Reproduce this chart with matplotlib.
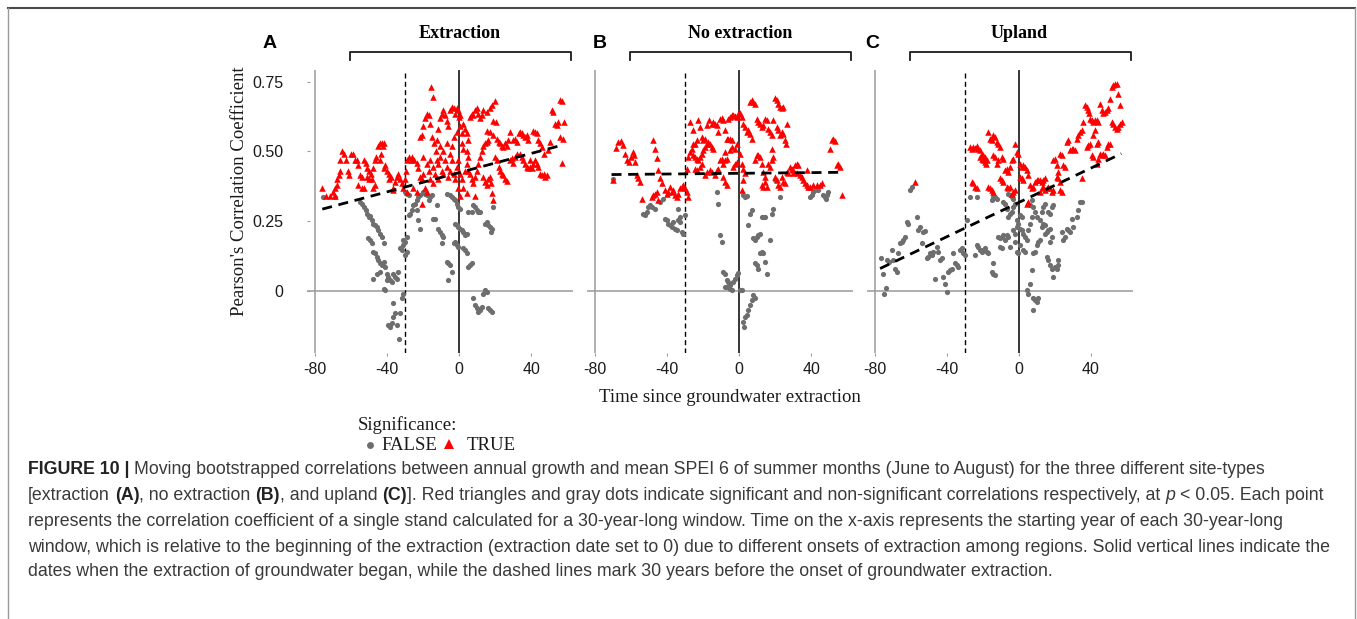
import matplotlib
matplotlib.use("Agg")
import matplotlib.pyplot as plt
from matplotlib.lines import Line2D

# ---------------------------------------------------------------- data
panel_keys = ["A", "B", "C"]
panel_titles = ["Extraction", "No extraction", "Upland"]
x_ticks = [-80, -40, 0, 40]
y_ticks = [0, 0.25, 0.50, 0.75]
y_tick_labels = ["0", "0.25", "0.50", "0.75"]

# (start year relative to extraction, correlation) - significant windows
a_true = [
    (-76, 0.37), (-74, 0.34), (-72, 0.34), (-69, 0.34), (-70, 0.355), (-69, 0.37),
    (-68, 0.38), (-68, 0.40), (-67, 0.415), (-66, 0.43), (-66, 0.47), (-65, 0.50),
    (-64, 0.49), (-63, 0.47), (-62, 0.43), (-61, 0.415), (-60, 0.49), (-59, 0.49),
    (-58, 0.47), (-57, 0.47), (-56, 0.45), (-55, 0.415), (-54, 0.41), (-56, 0.38),
    (-54, 0.37), (-53, 0.37), (-53, 0.47), (-52, 0.46), (-51, 0.44), (-50, 0.43),
    (-49, 0.42), (-48.5, 0.40), (-48, 0.37), (-47, 0.38), (-51, 0.41), (-50, 0.40),
    (-48, 0.44), (-47, 0.47), (-46, 0.48), (-45, 0.52), (-44, 0.53), (-43, 0.53),
    (-42, 0.53), (-42.5, 0.52), (-44, 0.47), (-43.5, 0.49), (-42, 0.44), (-41, 0.45),
    (-40, 0.43), (-39, 0.42), (-39, 0.40), (-38, 0.41), (-37, 0.36), (-36.5, 0.37),
    (-35.6, 0.39), (-34.6, 0.41), (-33.7, 0.42), (-32.8, 0.40), (-31.9, 0.385),
    (-30.9, 0.37), (-30, 0.40), (-29.4, 0.43), (-29, 0.47), (-28, 0.48), (-27, 0.47),
    (-26, 0.48), (-25, 0.47), (-23.5, 0.46), (-22.6, 0.44), (-21.7, 0.41),
    (-20.7, 0.40), (-19.8, 0.42), (-18.9, 0.37), (-18, 0.355), (-21.7, 0.55),
    (-20.7, 0.56), (-19.8, 0.59), (-18.9, 0.62), (-18, 0.635), (-17, 0.63), (-16, 0.60),
    (-15.7, 0.73), (-14.6, 0.695), (-15, 0.55), (-14, 0.53), (-13, 0.50), (-12.4, 0.54),
    (-11.5, 0.58), (-10.6, 0.62), (-9.6, 0.635), (-8.7, 0.65), (-7.8, 0.63),
    (-6.9, 0.61), (-5.9, 0.59), (-19.8, 0.48), (-18, 0.455), (-17, 0.43), (-16, 0.47),
    (-14.3, 0.445), (-13.3, 0.42), (-12.4, 0.47), (-11.5, 0.455), (-10.6, 0.48),
    (-9.6, 0.43), (-8.7, 0.42), (-7.8, 0.47), (-6.9, 0.445), (-5.9, 0.41), (-5, 0.43),
    (-4.1, 0.47), (-3.1, 0.42), (-2.2, 0.40), (-1.3, 0.445), (-0.4, 0.47),
    (-10.6, 0.52), (-8.7, 0.50), (-6.9, 0.53), (-5, 0.49), (-4.1, 0.52),
    (-11.5, 0.40), (-14.3, 0.385), (-16, 0.40), (-5, 0.65), (-4.1, 0.66),
    (-3.1, 0.655), (-2.2, 0.635), (-1.3, 0.655), (-0.4, 0.65), (0, 0.625), (0.6, 0.63),
    (-3.1, 0.55), (-1.3, 0.57), (0.6, 0.59), (1.5, 0.565), (2.4, 0.60), (3.3, 0.58),
    (4.3, 0.565), (5.2, 0.54), (1.5, 0.53), (2.4, 0.51), (4.3, 0.50), (5.2, 0.48),
    (0.6, 0.42), (1.5, 0.40), (2.4, 0.37), (3.3, 0.43), (4.3, 0.455), (-0.4, 0.367),
    (0.6, 0.34), (6.1, 0.625), (7, 0.635), (8, 0.63), (8.9, 0.65), (9.8, 0.655),
    (10.7, 0.635), (11.7, 0.62), (12.6, 0.63), (13.5, 0.65), (15.4, 0.64),
    (17.2, 0.655), (18.1, 0.665), (20, 0.68), (19.1, 0.61), (20.6, 0.605),
    (5.2, 0.43), (6.1, 0.42), (7, 0.40), (8, 0.385), (8.9, 0.41), (9.8, 0.43),
    (10.7, 0.455), (11.7, 0.48), (12.6, 0.50), (13.5, 0.52), (14.4, 0.53),
    (15.4, 0.535), (16.3, 0.54), (13.5, 0.41), (14.4, 0.39), (15.4, 0.38),
    (16.3, 0.40), (17.2, 0.41), (17.6, 0.385), (15.4, 0.575), (17.2, 0.57),
    (19.1, 0.56), (20.9, 0.545), (21.9, 0.535), (22.8, 0.53), (20, 0.48),
    (20.9, 0.47), (21.9, 0.445), (22.8, 0.43), (23.7, 0.42), (24.6, 0.415),
    (25.6, 0.40), (26.5, 0.395), (23.7, 0.52), (24.6, 0.515), (25.6, 0.53),
    (26.5, 0.52), (27.4, 0.54), (28.3, 0.57), (19.1, 0.325), (18.1, 0.35),
    (28.3, 0.47), (29.3, 0.475), (30.2, 0.46), (31.1, 0.48), (32, 0.49),
    (30.2, 0.54), (31.1, 0.545), (32, 0.535), (33, 0.565), (33.9, 0.57),
    (34.8, 0.565), (35.7, 0.56), (36.7, 0.55), (37.6, 0.56), (38.5, 0.54),
    (39.4, 0.47), (33.9, 0.49), (34.8, 0.48), (35.7, 0.47), (36.7, 0.455),
    (37.6, 0.445), (38.5, 0.44), (39.4, 0.445), (40.4, 0.44), (41.3, 0.455),
    (41.3, 0.575), (42.2, 0.57), (43.1, 0.565), (44.1, 0.54), (45, 0.53),
    (45.9, 0.515), (46.9, 0.49), (42.2, 0.47), (43.1, 0.455), (44.1, 0.445),
    (45, 0.42), (45.9, 0.415), (46.9, 0.42), (47.8, 0.41), (48.7, 0.415),
    (49.6, 0.505), (50.6, 0.535), (51.5, 0.65), (52.4, 0.64), (53.3, 0.60),
    (54.3, 0.595), (55.2, 0.605), (56.1, 0.685), (57, 0.68), (57.6, 0.545),
    (58, 0.605), (56.1, 0.55), (57, 0.46), (-29, 0.355), (-25.4, 0.367),
    (-23.5, 0.355), (-20.7, 0.313), (4.3, 0.35), (8.9, 0.34),
]
a_false = [
    (-75.4, 0.337), (-69, 0.337), (-55, 0.32), (-54, 0.313), (-53, 0.30), (-52, 0.29),
    (-51, 0.275), (-50, 0.265), (-49.4, 0.27), (-48.5, 0.253), (-47.6, 0.24),
    (-46.7, 0.235), (-45.7, 0.23), (-44.8, 0.217), (-43.9, 0.205), (-43, 0.194),
    (-42, 0.17), (-50.4, 0.188), (-49.4, 0.182), (-48.5, 0.172), (-47.6, 0.14),
    (-46.7, 0.134), (-45.7, 0.122), (-44.8, 0.11), (-43.9, 0.098), (-43, 0.092),
    (-42, 0.104), (-41.1, 0.086), (-40.2, 0.062), (-39.3, 0.05), (-38.3, 0.038),
    (-37.4, 0.032), (-36.5, 0.062), (-35.6, 0.05), (-34.6, 0.044), (-33.7, 0.068),
    (-47.6, 0.044), (-45.7, 0.062), (-43.9, 0.068), (-42, 0.008), (-41.1, 0.002),
    (-40.2, 0.038), (-39.3, -0.123), (-38.3, -0.129), (-37.4, -0.117),
    (-36.5, -0.093), (-35.6, -0.081), (-34.6, -0.123), (-33.3, -0.171),
    (-32.8, -0.081), (-31.9, -0.027), (-31.3, -0.01), (-36.5, -0.045),
    (-32.8, 0.152), (-31.9, 0.146), (-31.3, 0.164), (-30.9, 0.182), (-30, 0.176),
    (-29.1, 0.194), (-30, 0.128), (-29.1, 0.14), (-28.1, 0.271), (-27.2, 0.277),
    (-26.3, 0.289), (-25.4, 0.307), (-24.4, 0.313), (-23.5, 0.325), (-22.6, 0.337),
    (-21.7, 0.343), (-30, 0.355), (-29.1, 0.349), (-28.1, 0.343), (-23.5, 0.289),
    (-22.6, 0.253), (-21.7, 0.223), (-19.8, 0.355), (-18.9, 0.349), (-18, 0.343),
    (-17, 0.325), (-16.1, 0.337), (-15.2, 0.343), (-14.3, 0.259), (-13.3, 0.259),
    (-12.4, 0.307), (-11.5, 0.223), (-10.6, 0.211), (-9.6, 0.2), (-8.7, 0.194),
    (-9.6, 0.17), (-6.9, 0.104), (-5.9, 0.098), (-5, 0.092), (-4.1, 0.068),
    (-5.9, 0.038), (-6.9, 0.349), (-5, 0.343), (-4.1, 0.337), (-3.1, 0.331),
    (-2.2, 0.325), (-1.3, 0.313), (-0.4, 0.301), (0.6, 0.295), (-2.2, 0.241),
    (-1.3, 0.235), (-0.4, 0.229), (0.6, 0.223), (1.5, 0.217), (2.4, 0.211),
    (3.3, 0.205), (-3.1, 0.17), (-2.2, 0.176), (-1.3, 0.164), (-0.4, 0.158),
    (2.4, 0.152), (3.3, 0.146), (4.3, 0.134), (5.2, 0.086), (6.1, 0.092),
    (7, 0.098), (4.3, 0.205), (3.3, 0.2), (5.2, 0.283), (7, 0.283), (8, 0.307),
    (8.9, 0.301), (9.8, 0.289), (10.7, 0.283), (11.7, 0.283), (8, -0.027),
    (8.9, -0.051), (9.8, -0.063), (10.7, -0.075), (11.7, -0.069), (12.6, -0.057),
    (13.5, -0.01), (14.4, 0.002), (15.4, -0.004), (16.3, -0.063), (17.2, -0.069),
    (18.1, -0.075), (14.4, 0.241), (15.4, 0.247), (16.3, 0.235), (17.2, 0.229),
    (18.1, 0.223), (17.6, 0.211), (19.1, 0.301),
]

b_true = [
    (-70.4, 0.397), (-68.5, 0.514), (-67.2, 0.534), (-65.9, 0.538), (-64.8, 0.522),
    (-63.5, 0.492), (-62.6, 0.468), (-61.1, 0.462), (-60.4, 0.48), (-59.3, 0.498),
    (-58.5, 0.486), (-58, 0.462), (-57, 0.415), (-56.1, 0.403), (-55.2, 0.391),
    (-54.3, 0.331), (-48.1, 0.54), (-46.9, 0.51), (-45.9, 0.478), (-45, 0.432),
    (-44.1, 0.403), (-43.1, 0.385), (-48.7, 0.337), (-47.8, 0.343), (-46.9, 0.349),
    (-45.9, 0.355), (-45, 0.325), (-41.3, 0.361), (-40.4, 0.349), (-39.4, 0.355),
    (-38.5, 0.373), (-37.6, 0.355), (-36.7, 0.361), (-35.7, 0.343), (-34.8, 0.337),
    (-33.9, 0.349), (-33, 0.367), (-32, 0.373), (-31.1, 0.379), (-30.2, 0.367),
    (-29.3, 0.355), (-28.3, 0.337), (-29.3, 0.438), (-28.3, 0.48), (-27.4, 0.498),
    (-26.5, 0.51), (-25.6, 0.528), (-27.4, 0.606), (-25.9, 0.576), (-24.6, 0.528),
    (-23.7, 0.54), (-22.8, 0.612), (-21.9, 0.588), (-20.9, 0.552), (-20, 0.54),
    (-19.1, 0.546), (-25.6, 0.486), (-24.6, 0.48), (-23.7, 0.474), (-22.8, 0.468),
    (-21.9, 0.48), (-20.9, 0.492), (-20, 0.504), (-19.1, 0.516), (-18.1, 0.528),
    (-17.2, 0.534), (-16.3, 0.528), (-15.4, 0.516), (-14.4, 0.51), (-24.6, 0.438),
    (-23.3, 0.432), (-21.9, 0.444), (-20.9, 0.456), (-18.1, 0.594), (-16.7, 0.612),
    (-15.4, 0.6), (-14.4, 0.606), (-13.5, 0.6), (-12.6, 0.594), (-11.7, 0.57),
    (-10.7, 0.618), (-9.8, 0.621), (-8.9, 0.612), (-8, 0.576), (-7, 0.546),
    (-6.1, 0.546), (-5.2, 0.546), (-4.3, 0.54), (-12.6, 0.432), (-11.7, 0.438),
    (-10.7, 0.468), (-9.8, 0.474), (-8.9, 0.456), (-8, 0.468), (-7, 0.474),
    (-19.1, 0.415), (-18.1, 0.427), (-16.3, 0.432), (-15.4, 0.427), (-13.5, 0.415),
    (-8.9, 0.409), (-8, 0.391), (-7, 0.379), (-8, 0.498), (-6.1, 0.618),
    (-5.2, 0.624), (-4.3, 0.63), (-3.3, 0.63), (-2.4, 0.627), (-1.5, 0.624),
    (-0.6, 0.633), (0.4, 0.636), (1.3, 0.624), (2.2, 0.6), (3.1, 0.588), (4.1, 0.57),
    (5, 0.576), (5.9, 0.564), (6.9, 0.546), (-3.3, 0.444), (-2.4, 0.456),
    (-1.5, 0.462), (0.4, 0.492), (1.3, 0.456), (2.2, 0.438), (3.1, 0.421),
    (-5.2, 0.504), (-4.3, 0.516), (-2.4, 0.51), (-1.5, 0.528), (2.2, 0.397),
    (1.3, 0.361), (5.9, 0.677), (6.9, 0.683), (7.8, 0.677), (8.7, 0.671),
    (8.7, 0.468), (9.6, 0.486), (10.6, 0.486), (11.5, 0.48), (12.4, 0.456),
    (13.3, 0.427), (14.3, 0.409), (15.2, 0.373), (9.6, 0.618), (10.6, 0.606),
    (11.5, 0.6), (12.4, 0.588), (13.3, 0.594), (14.3, 0.618), (15.2, 0.612),
    (12.4, 0.379), (13.3, 0.373), (14.3, 0.391), (16.1, 0.582), (17, 0.57),
    (18, 0.558), (18.9, 0.612), (19.8, 0.693), (20.7, 0.683), (21.7, 0.671),
    (22.6, 0.659), (23.5, 0.657), (24.4, 0.659), (16.1, 0.456), (17, 0.444),
    (18, 0.468), (18.9, 0.48), (19.8, 0.409), (20.7, 0.397), (21.7, 0.379),
    (22.6, 0.373), (18, 0.51), (20.7, 0.588), (21.7, 0.576), (22.6, 0.558),
    (23.5, 0.57), (24.4, 0.564), (25.4, 0.54), (26.3, 0.6), (25.9, 0.528),
    (23.5, 0.409), (24.4, 0.391), (25.4, 0.385), (26.3, 0.427), (27.2, 0.421),
    (28.1, 0.444), (29.1, 0.438), (30, 0.432), (30.9, 0.45), (31.9, 0.456),
    (32.8, 0.45), (30, 0.421), (31.9, 0.421), (33.7, 0.415), (34.6, 0.409),
    (35.6, 0.397), (36.5, 0.385), (37.4, 0.379), (38.3, 0.373), (37.4, 0.432),
    (39.3, 0.373), (41.1, 0.379), (43, 0.379), (44.8, 0.379), (45.7, 0.385),
    (50.4, 0.51), (51.3, 0.54), (52.2, 0.543), (53.1, 0.538), (54.1, 0.45),
    (55, 0.456), (55.9, 0.444), (56.9, 0.343),
]
b_false = [
    (-70.4, 0.40), (-53.3, 0.277), (-52.4, 0.271), (-51.5, 0.283), (-50.6, 0.301),
    (-49.6, 0.307), (-48.7, 0.301), (-46.9, 0.295), (-44.1, 0.319), (-42.2, 0.331),
    (-41.3, 0.259), (-40.4, 0.253), (-39.4, 0.241), (-38.5, 0.235), (-37.6, 0.229),
    (-36.7, 0.247), (-35.7, 0.223), (-34.8, 0.217), (-33.9, 0.253), (-33, 0.247),
    (-32, 0.211), (-31.1, 0.205), (-30.2, 0.271), (-33.9, 0.295), (-33, 0.265),
    (-12.6, 0.355), (-11.7, 0.313), (-10.7, 0.2), (-9.8, 0.176), (-8.9, 0.068),
    (-8, 0.062), (-7, 0.038), (-6.1, 0.032), (-5.2, 0.02), (-4.3, 0.002),
    (-3.3, 0.032), (-2.4, 0.044), (-1.5, 0.056), (-0.6, 0.065), (-8, 0.014),
    (-7, 0.012), (-5.2, 0.005), (0.4, 0.002), (1.3, 0.002), (2.2, 0.343),
    (3.1, 0.337), (4.1, 0.339), (5, 0.235), (5.9, 0.277), (6.9, 0.289),
    (2.2, -0.111), (2.8, -0.129), (3.1, -0.093), (4.1, -0.087), (5, -0.069),
    (5.9, -0.051), (6.9, -0.033), (7.8, -0.016), (8.7, -0.027), (7.8, 0.188),
    (8.7, 0.182), (9.6, 0.194), (10.6, 0.2), (11.5, 0.205), (8.7, 0.098),
    (9.6, 0.092), (10.6, 0.08), (11.5, 0.134), (12.4, 0.14), (13.3, 0.134),
    (14.3, 0.104), (15.2, 0.062), (12.4, 0.265), (13.3, 0.265), (14.3, 0.265),
    (17, 0.182), (18, 0.277), (18.9, 0.295), (19.8, 0.397), (22.6, 0.337),
    (39.3, 0.337), (40.2, 0.343), (41.1, 0.355), (42, 0.361), (43, 0.367),
    (43.9, 0.361), (47.6, 0.337), (48.5, 0.343), (49.4, 0.355), (46.7, 0.343),
    (48.1, 0.331),
]

c_true = [
    (-57.6, 0.391), (-27, 0.516), (-26.1, 0.51), (-25.2, 0.516), (-24.3, 0.514),
    (-23.3, 0.519), (-22.4, 0.51), (-21.5, 0.504), (-20.6, 0.492), (-19.6, 0.486),
    (-18.7, 0.48), (-17.8, 0.468), (-19.6, 0.468), (-26.1, 0.391), (-25.2, 0.385),
    (-24.3, 0.373), (-23.3, 0.367), (-21.5, 0.48), (-20.6, 0.474), (-18.7, 0.462),
    (-18.1, 0.456), (-16.9, 0.57), (-15.9, 0.546), (-15, 0.54), (-14.1, 0.558),
    (-13.1, 0.552), (-12.2, 0.534), (-11.3, 0.528), (-10.4, 0.516), (-9.4, 0.48),
    (-8.5, 0.474), (-16.9, 0.373), (-15.9, 0.367), (-15, 0.361), (-14.1, 0.355),
    (-14.1, 0.486), (-13.1, 0.48), (-12.2, 0.456), (-11.3, 0.468), (-10.4, 0.403),
    (-9.4, 0.397), (-8.5, 0.391), (-7.6, 0.432), (-6.7, 0.373), (-5.7, 0.367),
    (-4.8, 0.373), (-6.7, 0.438), (-5.7, 0.427), (-4.8, 0.444), (-3.9, 0.468),
    (-3, 0.474), (-2, 0.528), (-1.1, 0.498), (-0.2, 0.492), (-3.9, 0.349),
    (-3, 0.355), (-2, 0.361), (0.7, 0.456), (1.7, 0.444), (2.6, 0.45), (3.5, 0.444),
    (4.4, 0.432), (5.4, 0.415), (0.7, 0.409), (1.7, 0.403), (2.6, 0.397),
    (4.4, 0.313), (5.4, 0.319), (6.3, 0.379), (7.2, 0.367), (8.1, 0.373),
    (9.1, 0.391), (10, 0.397), (10.9, 0.397), (11.9, 0.397), (12.8, 0.391),
    (13.7, 0.397), (14.6, 0.403), (11.9, 0.355), (12.8, 0.367), (13.7, 0.373),
    (14.6, 0.361), (15.6, 0.367), (16.5, 0.373), (17.4, 0.367), (18.3, 0.355),
    (19.3, 0.361), (19.3, 0.468), (20.2, 0.474), (21.1, 0.45), (22, 0.427),
    (23, 0.492), (23.9, 0.486), (24.8, 0.45), (25.7, 0.444), (23, 0.361),
    (23.9, 0.355), (21.1, 0.409), (22, 0.403), (23, 0.391), (26.7, 0.534),
    (27.6, 0.54), (28.5, 0.504), (29.4, 0.507), (30.4, 0.51), (31.3, 0.504),
    (32.2, 0.546), (33.1, 0.558), (34.1, 0.57), (35, 0.576), (35, 0.403),
    (35.9, 0.606), (36.9, 0.665), (37.8, 0.659), (38.7, 0.648), (39.3, 0.636),
    (39.6, 0.618), (40.6, 0.612), (41.5, 0.606), (42.4, 0.612), (43.3, 0.612),
    (44.3, 0.606), (37.8, 0.516), (38.7, 0.522), (39.6, 0.528), (40.6, 0.486),
    (41.5, 0.48), (41.5, 0.558), (42.4, 0.576), (43.3, 0.528), (44.3, 0.534),
    (45.2, 0.671), (46.1, 0.648), (47, 0.636), (48, 0.642), (48.9, 0.648),
    (49.8, 0.654), (45.2, 0.492), (46.1, 0.486), (47, 0.492), (48, 0.486),
    (48.9, 0.516), (49.8, 0.528), (50.7, 0.528), (43.3, 0.456), (44.3, 0.474),
    (50.7, 0.689), (51.7, 0.731), (52.6, 0.737), (53.5, 0.741), (54.4, 0.743),
    (55.4, 0.707), (56.3, 0.665), (57.2, 0.606), (51.7, 0.606), (52.6, 0.6),
    (53.5, 0.588), (54.4, 0.582), (55.4, 0.588), (56.3, 0.6),
]
c_false = [
    (-76.7, 0.116), (-75.6, 0.062), (-74.8, -0.013), (-73.7, 0.011), (-73, 0.11),
    (-71.9, 0.104), (-70.6, 0.146), (-69.6, 0.11), (-68.7, 0.08), (-67.8, 0.068),
    (-66.9, 0.134), (-65.9, 0.17), (-65, 0.176), (-64.1, 0.182), (-63.1, 0.194),
    (-62.2, 0.247), (-61.3, 0.241), (-60.4, 0.361), (-59.4, 0.373), (-56.7, 0.265),
    (-55.7, 0.217), (-54.8, 0.229), (-53.9, 0.17), (-53, 0.211), (-52, 0.215),
    (-51.1, 0.116), (-50.2, 0.122), (-49.3, 0.134), (-48.3, 0.128), (-47.4, 0.14),
    (-46.5, 0.044), (-45.6, 0.158), (-44.6, 0.14), (-43.7, 0.11), (-42.8, 0.116),
    (-41.9, 0.05), (-40.9, 0.026), (-40, -0.004), (-39.1, 0.068), (-38.1, 0.074),
    (-37.2, 0.08), (-36.3, 0.134), (-35.4, 0.098), (-34.4, 0.092), (-33.5, 0.086),
    (-32.6, 0.146), (-31.7, 0.152), (-30.7, 0.134), (-29.8, 0.128), (-28.9, 0.253),
    (-27, 0.337), (-23, 0.337), (-24.3, 0.128), (-23.3, 0.164), (-22.4, 0.158),
    (-21.5, 0.146), (-20.6, 0.14), (-19.6, 0.146), (-18.7, 0.152), (-17.8, 0.14),
    (-16.9, 0.134), (-15, 0.068), (-14.1, 0.062), (-13.1, 0.056), (-14.1, 0.098),
    (-15, 0.325), (-14.1, 0.337), (-13.1, 0.337), (-12.2, 0.331), (-11.3, 0.194),
    (-10.4, 0.188), (-9.4, 0.194), (-8.5, 0.2), (-7.6, 0.182), (-6.7, 0.2),
    (-5.7, 0.194), (-4.8, 0.158), (-10.4, 0.158), (-9.4, 0.152), (-8.5, 0.319),
    (-7.6, 0.313), (-6.7, 0.295), (-5.7, 0.265), (-4.8, 0.277), (-3.9, 0.283),
    (-3, 0.301), (-2, 0.313), (-5.7, 0.349), (-4.8, 0.343), (-3.9, 0.337),
    (-3, 0.331), (-3, 0.217), (-2, 0.205), (-1.1, 0.229), (-0.2, 0.241),
    (-1.1, 0.253), (0.7, 0.271), (1.7, 0.265), (-2, 0.176), (-1.1, 0.14),
    (-0.2, 0.134), (0.7, 0.164), (2.6, 0.146), (3.5, 0.14), (0.7, 0.223),
    (1.7, 0.217), (2.6, 0.205), (3.5, 0.194), (4.4, 0.182), (5.4, 0.217),
    (6.3, 0.241), (7.2, 0.265), (4.4, 0.002), (5.4, -0.01), (6.3, 0.026),
    (7.2, 0.074), (8.1, -0.027), (9.1, -0.033), (10, -0.039), (10.9, -0.027),
    (8.1, -0.069), (6.3, 0.307), (7.2, 0.325), (8.1, 0.301), (9.1, 0.283),
    (8.1, 0.134), (9.1, 0.14), (10, 0.164), (10.9, 0.176), (11.9, 0.182),
    (12.8, 0.229), (13.7, 0.241), (14.6, 0.235), (10, 0.265), (11.9, 0.253),
    (12.8, 0.283), (13.7, 0.301), (14.6, 0.313), (14.6, 0.205), (15.6, 0.211),
    (16.5, 0.217), (17.4, 0.223), (18.3, 0.194), (17.4, 0.176), (15.6, 0.122),
    (16.5, 0.11), (17.4, 0.092), (18.3, 0.08), (19.3, 0.05), (20.2, 0.086),
    (21.1, 0.08), (22, 0.092), (22, 0.11), (16.5, 0.283), (17.4, 0.277),
    (18.3, 0.301), (19.3, 0.307), (23.9, 0.211), (24.8, 0.182), (25.7, 0.194),
    (26.7, 0.223), (27.6, 0.217), (28.5, 0.211), (29.4, 0.259), (30.4, 0.229),
    (32.2, 0.265), (33.1, 0.289), (34.1, 0.319), (35, 0.319),
]

# linear trend of each panel: end points (year, correlation)
trend_x = [[-76, 57], [-71, 56], [-77, 57]]
trend_y = [[0.293, 0.522], [0.417, 0.425], [0.080, 0.492]]

extraction_start = 0
window_before = -30
first_year = -80

# ---------------------------------------------------------------- layout
W, H = 1357, 619
fig = plt.figure(figsize=(W / 100, H / 100), dpi=100)
fig.patch.set_facecolor("white")


def fx(px):
    return px / W


def fy(py):
    return 1 - py / H


SANS = "Liberation Sans"
SERIF = "Liberation Serif"
RED = "#FF0000"
GREY = "#6E6E6E"

x_lo, x_hi = -84.5, 63.3
y_lo, y_hi = -0.223, 0.792
px_per_year = 1.8
zero_px = [459.1, 739.3, 1018.7]
ax_top, ax_bottom = 70, 353

groups = [(a_true, a_false), (b_true, b_false), (c_true, c_false)]

for i, (sig, nonsig) in enumerate(groups):
    left = zero_px[i] + x_lo * px_per_year
    width = (x_hi - x_lo) * px_per_year
    ax = fig.add_axes([fx(left), fy(ax_bottom), width / W, (ax_bottom - ax_top) / H])
    ax.set_xlim(x_lo, x_hi)
    ax.set_ylim(y_lo, y_hi)
    for s in ax.spines.values():
        s.set_visible(False)
    ax.set_facecolor("none")

    ax.axhline(0, color="#9a9a9a", lw=1.1, zorder=1)
    ax.axvline(first_year, color="#9a9a9a", lw=1.1, zorder=1)
    ax.axvline(window_before, color="black", lw=1.0, ls=(0, (3.6, 2.4)), zorder=1)
    ax.axvline(extraction_start, color="black", lw=1.1, zorder=1)

    fx_, fy_ = zip(*nonsig)
    ax.scatter(fx_, fy_, marker="o", s=14, color=GREY, linewidths=0, zorder=2)
    tx_, ty_ = zip(*sig)
    ax.scatter(tx_, ty_, marker="^", s=22, color=RED, linewidths=0, zorder=3)

    ax.plot(trend_x[i], trend_y[i], color="black", lw=2.0, ls=(0, (3.6, 2.4)),
            solid_capstyle="butt", dash_capstyle="butt", zorder=4)

    ax.set_xticks(x_ticks)
    ax.set_xticklabels([str(t) for t in x_ticks], fontfamily=SANS, fontsize=11.5,
                       color="#1a1a1a")
    ax.tick_params(axis="x", length=2.5, width=0.8, color="#9a9a9a", pad=4)
    if i == 0:
        ax.set_yticks(y_ticks)
        ax.set_yticklabels(y_tick_labels, fontfamily=SANS, fontsize=11.5,
                           color="#1a1a1a")
        ax.tick_params(axis="y", length=2, width=0.8, color="#9a9a9a",
                       direction="in", pad=17)
    else:
        ax.set_yticks([])

    # group bracket and its title
    b_left = zero_px[i] - 60.5 * px_per_year
    b_right = zero_px[i] + 62.2 * px_per_year
    fig.add_artist(Line2D([fx(b_left), fx(b_left), fx(b_right), fx(b_right)],
                          [fy(60), fy(51.5), fy(51.5), fy(60)],
                          color="#1a1a1a", lw=1.3))
    fig.text(fx(zero_px[i] + 0.5), fy(34), panel_titles[i], ha="center",
             va="center", fontfamily=SERIF, fontweight="bold", fontsize=13,
             color="black")

letter_px = [270, 600, 872]
for key, lx in zip(panel_keys, letter_px):
    fig.text(fx(lx), fy(44), key, ha="center", va="center", fontfamily=SANS,
             fontweight="bold", fontsize=14, color="black")

fig.text(fx(240), fy(191), "Pearson's Correlation Coefficient", rotation=90,
         ha="center", va="center", fontfamily=SERIF, fontsize=13.5, color="#1a1a1a")
fig.text(fx(730), fy(397), "Time since groundwater extraction", ha="center",
         va="center", fontfamily=SERIF, fontsize=13.5, color="#1a1a1a")

# legend
fig.text(fx(358), fy(425), "Significance:", ha="left", va="center",
         fontfamily=SERIF, fontsize=13.5, color="#1a1a1a")
fig.add_artist(Line2D([fx(370)], [fy(445)], marker="o", ms=5, color=GREY,
                      markeredgewidth=0, linestyle="none"))
fig.text(fx(381), fy(445), "FALSE", ha="left", va="center", fontfamily=SERIF,
         fontsize=13.5, color="#1a1a1a")
fig.add_artist(Line2D([fx(449)], [fy(444)], marker="^", ms=7, color=RED,
                      markeredgewidth=0, linestyle="none"))
fig.text(fx(467), fy(445), "TRUE", ha="left", va="center", fontfamily=SERIF,
         fontsize=13.5, color="#1a1a1a")

# page frame
fig.add_artist(Line2D([fx(8), fx(1355)], [fy(8), fy(8)], color="#4a4a4a", lw=1.5))
fig.add_artist(Line2D([fx(8), fx(8)], [fy(8), fy(619)], color="#9a9a9a", lw=1.0))
fig.add_artist(Line2D([fx(1355), fx(1355)], [fy(8), fy(619)], color="#9a9a9a", lw=1.0))

# caption
renderer = fig.canvas.get_renderer()
CAP_SIZE = 12.75
CAP_COLOR = "#3a3a3a"


def base_style(kw):
    style = dict(fontfamily=SANS, fontsize=CAP_SIZE, color=CAP_COLOR)
    style.update(kw)
    return style


def advance(s, kw):
    """Horizontal advance of s in pixels, spaces included."""
    def w(txt):
        t = fig.text(0, 0, txt, **base_style(kw))
        v = t.get_window_extent(renderer).width
        t.remove()
        return v
    return w("|" + s + "|") - w("||")


def caption_line(y, runs, x0=28):
    x = x0
    for s, kw in runs:
        lead = len(s) - len(s.lstrip(" "))
        core = s.strip(" ")
        start = x + (advance(" " * lead, kw) if lead else 0)
        fig.text(fx(start), fy(y), core, ha="left", va="center", **base_style(kw))
        x += advance(s, kw)


B = dict(fontweight="bold", color="#222222")
N = {}
caption_line(470, [("FIGURE 10 |", B),
                   (" Moving bootstrapped correlations between annual growth and mean SPEI 6 "
                    "of summer months (June to August) for the three different site-types", N)])
caption_line(495, [("[extraction ", N), ("(A)", B), (", no extraction ", N), ("(B)", B),
                   (", and upland ", N), ("(C)", B),
                   ("]. Red triangles and gray dots indicate significant and non-significant "
                    "correlations respectively, at ", N), ("p", dict(fontstyle="italic")),
                   (" < 0.05. Each point", N)])
caption_line(521, [("represents the correlation coefficient of a single stand calculated for a "
                    "30-year-long window. Time on the x-axis represents the starting year of "
                    "each 30-year-long", N)])
caption_line(547, [("window, which is relative to the beginning of the extraction (extraction "
                    "date set to 0) due to different onsets of extraction among regions. Solid "
                    "vertical lines indicate the", N)])
caption_line(572, [("dates when the extraction of groundwater began, while the dashed lines "
                    "mark 30 years before the onset of groundwater extraction.", N)])

fig.savefig("out.png", dpi=100, facecolor="white")
